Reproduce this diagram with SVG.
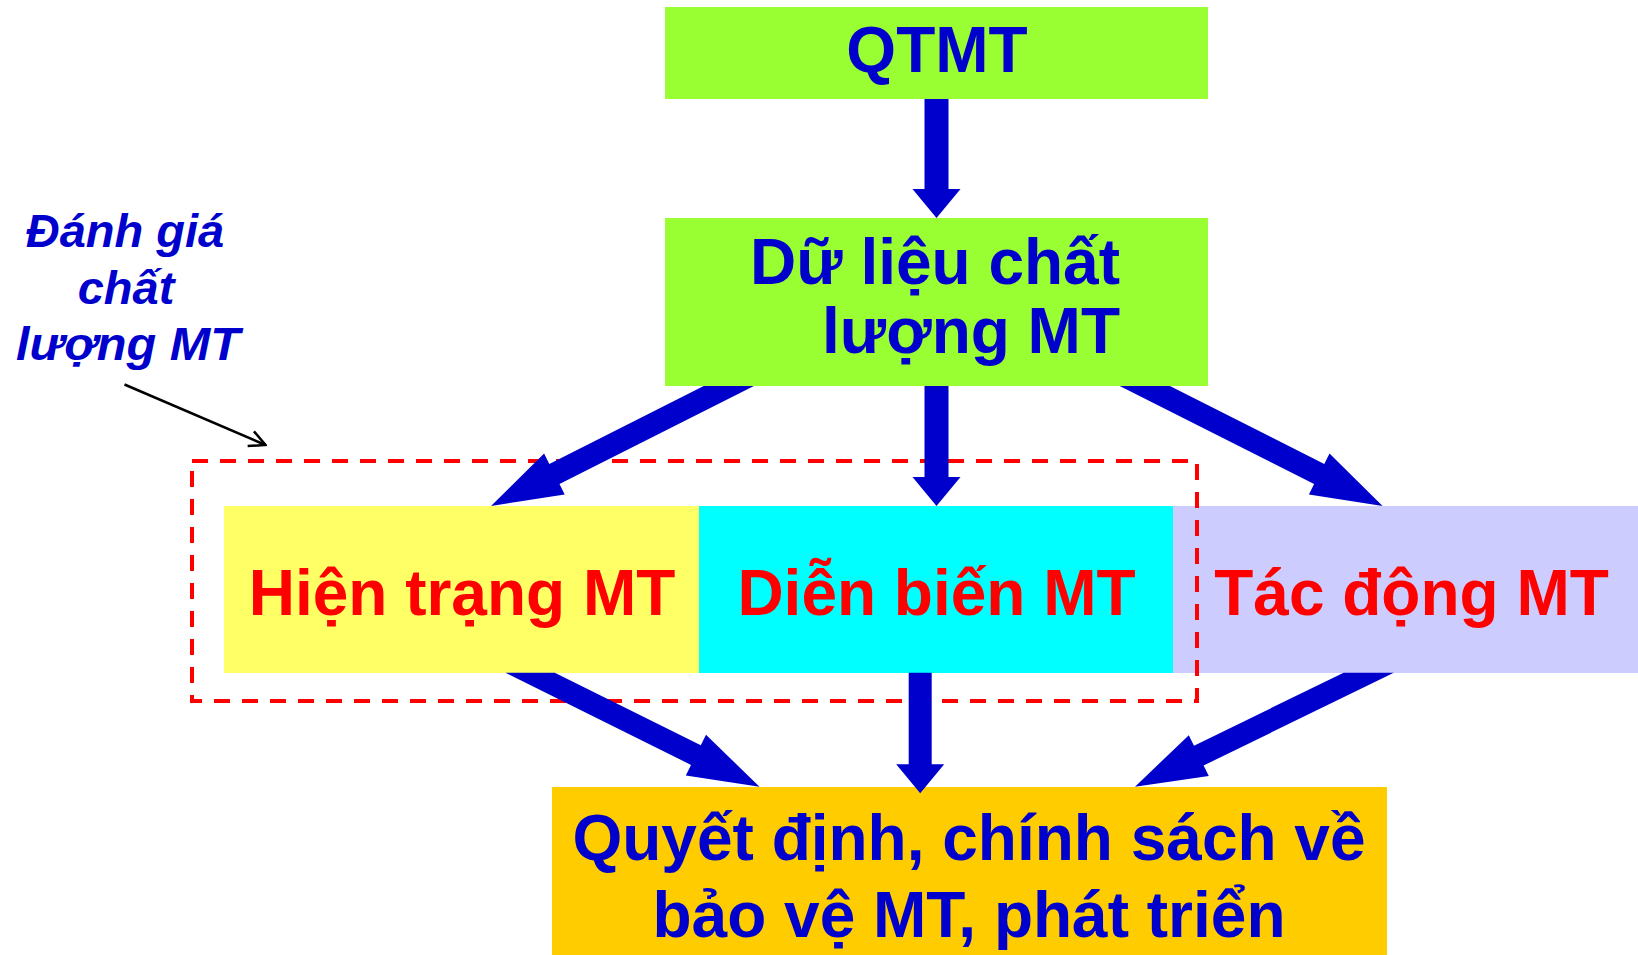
<svg xmlns="http://www.w3.org/2000/svg" width="1638" height="955" viewBox="0 0 1638 955">
<defs>
<style>
.t{font-family:"Liberation Sans",Arial,sans-serif;font-weight:bold;font-size:64px}
.blue{fill:#0000CC}
.red{fill:#FF0000}
.ital{font-family:"Liberation Sans",Arial,sans-serif;font-weight:bold;font-style:italic;font-size:47px;fill:#0000CC}
.arr{fill:#0000CC}
</style>
<marker id="open" viewBox="0 0 20 20" refX="18" refY="10" markerWidth="20" markerHeight="20" markerUnits="userSpaceOnUse" orient="auto">
<path d="M2,2 L18,10 L2,18" fill="none" stroke="#000" stroke-width="2.5"/>
</marker>
</defs>
<rect width="1638" height="955" fill="#FFFFFF"/>

<g id="qtmt">
<rect x="665" y="7" width="543" height="92" fill="#99FF33"/>
<text class="t blue" x="937" y="72" text-anchor="middle">QTMT</text>
</g>

<g id="du-lieu">
<rect x="665" y="218" width="543" height="168" fill="#99FF33"/>
<text class="t blue" x="1120" y="284" text-anchor="end">Dữ liệu chất</text>
<text class="t blue" x="1120" y="353" text-anchor="end">lượng MT</text>
</g>

<g id="hien-trang">
<rect x="224" y="506" width="475" height="167" fill="#FFFF66"/>
<text class="t red" x="462" y="615" text-anchor="middle">Hiện trạng MT</text>
</g>

<g id="dien-bien">
<rect x="699" y="506" width="474" height="167" fill="#00FFFF"/>
<text class="t red" x="936.5" y="615" text-anchor="middle">Diễn biến MT</text>
</g>

<g id="tac-dong">
<rect x="1173" y="506" width="465" height="167" fill="#CCCCFF"/>
<text class="t red" x="1411.5" y="615" text-anchor="middle">Tác động MT</text>
</g>

<g id="quyet-dinh">
<rect x="552" y="787" width="835" height="168" fill="#FFCC00"/>
<text class="t blue" x="969" y="860" text-anchor="middle">Quyết định, chính sách về</text>
<text class="t blue" x="969" y="937" text-anchor="middle">bảo vệ MT, phát triển</text>
</g>

<g id="danh-gia">
<text class="ital" x="125" y="246.5" text-anchor="middle">Đánh giá</text>
<text class="ital" x="126" y="304" text-anchor="middle">chất</text>
<text class="ital" x="128" y="359.5" text-anchor="middle" textLength="224" lengthAdjust="spacingAndGlyphs">lượng MT</text>
</g>

<g id="connectors">
<rect id="nhom-danh-gia" x="192" y="461" width="1005" height="240" fill="none" stroke="#FF0000" stroke-width="4" stroke-dasharray="16 12"/>
<line x1="124.5" y1="384.5" x2="265.5" y2="445" stroke="#000" stroke-width="2.5" marker-end="url(#open)"/>
<polygon class="arr" points="924.5,99 948.5,99 948.5,189 960.5,189 936.5,218 912.5,189 924.5,189"/>
<polygon class="arr" points="924.5,386 948.5,386 948.5,477 960.5,477 936.5,506 912.5,477 924.5,477"/>
<polygon class="arr" points="703.7,386 753.9,386 559.5,484.1 564.7,494.4 491,506 544.1,453.6 549.3,463.9"/>
<polygon class="arr" points="1169.9,386 1119.7,386 1314.1,484.1 1308.9,494.4 1382.6,506 1329.5,453.6 1324.3,463.9"/>
<polygon class="arr" points="505.4,672.7 554.8,672.7 700.8,745.3 706,734.8 759.5,786.7 685.8,775.4 691,764.9"/>
<polygon class="arr" points="1393.8,672.7 1343.6,672.7 1194,745.7 1188.8,735.2 1135,786.7 1208.8,776 1203.6,765.5"/>
<polygon class="arr" points="908.7,672.7 931.7,672.7 931.7,764.3 944.2,764.3 920.2,793.3 896.2,764.3 908.7,764.3"/>
</g>
</svg>
